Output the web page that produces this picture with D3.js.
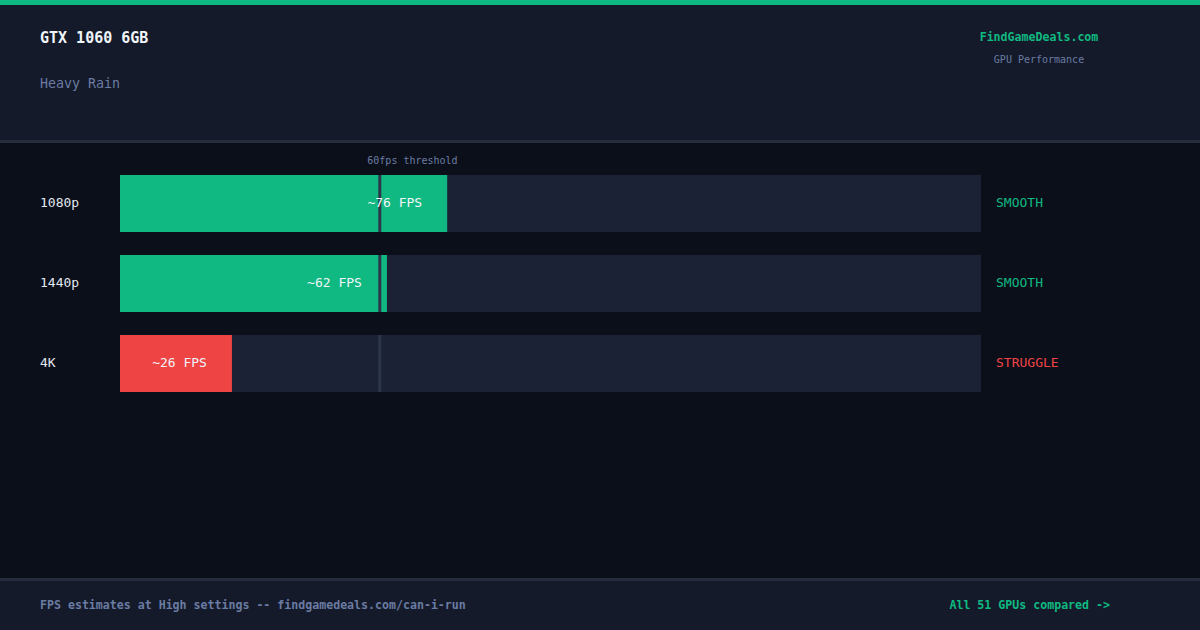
<!DOCTYPE html>
<html><head><meta charset="utf-8">
<script src="https://cdn.jsdelivr.net/npm/d3@7"></script>
<style>
html,body{margin:0;padding:0;background:#0b0f1a;}
svg{display:block;font-family:"DejaVu Sans Mono",monospace;}
</style></head>
<body><svg id="c" width="1200" height="630"></svg>
<script>
const title = "GTX 1060 6GB";
const subtitle = "Heavy Rain";
const brand = "FindGameDeals.com";
const brandSub = "GPU Performance";
const resolutions = ["1080p", "1440p", "4K"];
const fpsValues = [76, 62, 26];
const statuses = ["SMOOTH", "SMOOTH", "STRUGGLE"];
const fpsDomain = [0, 200];
const threshold = 60;
const thresholdLabel = "60fps threshold";
const footerLeft = "FPS estimates at High settings -- findgamedeals.com/can-i-run";
const footerRight = "All 51 GPUs compared ->";

const GREEN = "#10b981", RED = "#ef4444", MUTED = "#6b7ca3";
const statusColor = s => s === "STRUGGLE" ? RED : GREEN;

const svg = d3.select("#c");
// backgrounds
svg.append("rect").attr("x",0).attr("y",0).attr("width",1200).attr("height",630).attr("fill","#0b0f1a");
svg.append("rect").attr("x",0).attr("y",0).attr("width",1200).attr("height",141).attr("fill","#141a2a");
svg.append("rect").attr("x",0).attr("y",0).attr("width",1200).attr("height",5).attr("fill",GREEN);
svg.append("rect").attr("x",0).attr("y",140).attr("width",1200).attr("height",3).attr("fill","#252c3b");
svg.append("rect").attr("x",0).attr("y",578).attr("width",1200).attr("height",52).attr("fill","#141a2a");
svg.append("rect").attr("x",0).attr("y",578).attr("width",1200).attr("height",3).attr("fill","#252c3b");

// header
svg.append("text").attr("x",40).attr("y",43).attr("fill","#f1f5f9").attr("font-size",15).attr("font-weight","bold").text(title);
svg.append("text").attr("x",40).attr("y",88).attr("fill",MUTED).attr("font-size",13.3).text(subtitle);
svg.append("text").attr("x",1039).attr("y",41).attr("text-anchor","middle").attr("fill",GREEN).attr("font-size",11.6).attr("font-weight","bold").text(brand);
svg.append("text").attr("x",1039).attr("y",63).attr("text-anchor","middle").attr("fill",MUTED).attr("font-size",10).text(brandSub);

// scales
const x = d3.scaleLinear().domain(fpsDomain).range([120, 981]);
const y = d3.scaleBand().domain(resolutions).range([175, 392]).paddingInner(23/80).paddingOuter(0);
const cy = d => y(d) + y.bandwidth()/2 - 1.5;

const rows = svg.append("g").selectAll("g").data(resolutions).join("g");
rows.append("rect").attr("x",x(0)).attr("y",d=>y(d)).attr("width",x(fpsDomain[1])-x(0)).attr("height",y.bandwidth()).attr("fill","#1b2236");
rows.append("rect").attr("x",x(0)).attr("y",d=>y(d)).attr("width",(d,i)=>x(fpsValues[i])-x(0)).attr("height",y.bandwidth()).attr("fill",(d,i)=>statusColor(statuses[i]));
rows.append("text").attr("x",40).attr("y",cy).attr("dy","0.35em").attr("fill","#e2e8f0").attr("font-size",13).text(d=>d);
rows.append("text").attr("x",996).attr("y",cy).attr("dy","0.35em").attr("fill",(d,i)=>statusColor(statuses[i])).attr("font-size",13).text((d,i)=>statuses[i]);

// threshold line (per row)
rows.append("rect").attr("x",x(threshold)).attr("y",d=>y(d)).attr("width",3).attr("height",y.bandwidth()).attr("fill","#2d3548");
svg.append("text").attr("x",x(threshold)-11).attr("y",164).attr("fill",MUTED).attr("font-size",10).text(thresholdLabel);

// fps labels
rows.append("text").attr("x",(d,i)=>x(fpsValues[i])-25).attr("y",cy).attr("dy","0.35em").attr("text-anchor","end").attr("fill","#f1f5f9").attr("font-size",13).text((d,i)=>"~"+fpsValues[i]+" FPS");

// footer
svg.append("text").attr("x",40).attr("y",609).attr("fill",MUTED).attr("font-size",11.6).attr("font-weight","bold").text(footerLeft);
svg.append("text").attr("x",1110).attr("y",609).attr("text-anchor","end").attr("fill",GREEN).attr("font-size",11.6).attr("font-weight","bold").text(footerRight);
</script></body></html>
